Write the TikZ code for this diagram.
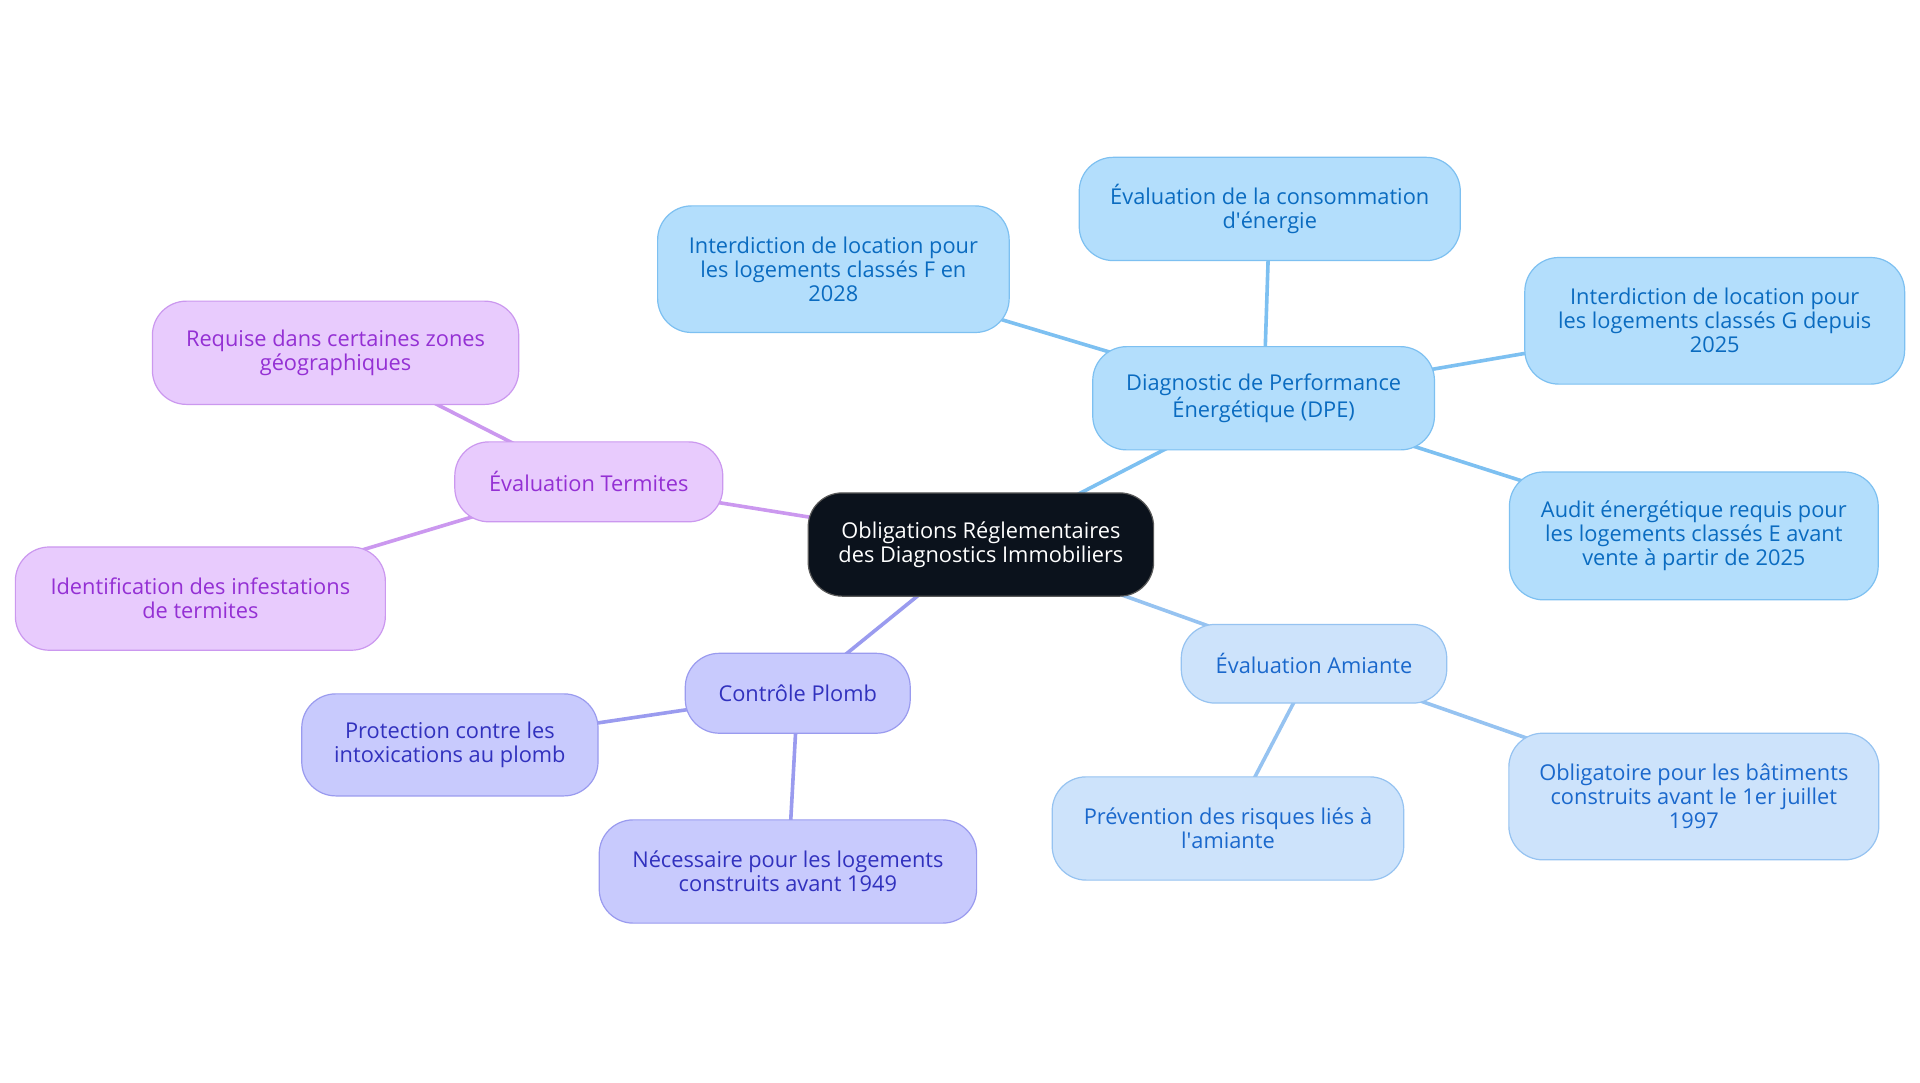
\documentclass[tikz,border=0pt]{standalone}
\usepackage{fontspec}
\setmainfont{Open Sans}
\usetikzlibrary{backgrounds}
\definecolor{rootfill}{HTML}{0B121C}
\definecolor{dpefill}{HTML}{B3DEFC}
\definecolor{dpeline}{HTML}{7DC0F1}
\definecolor{dpetext}{HTML}{0A6BC0}
\definecolor{amifill}{HTML}{CDE3FB}
\definecolor{amiline}{HTML}{96C3F1}
\definecolor{amitext}{HTML}{1A68CC}
\definecolor{plofill}{HTML}{C8CAFD}
\definecolor{ploline}{HTML}{9A9BEF}
\definecolor{plotext}{HTML}{3131BE}
\definecolor{terfill}{HTML}{E8CBFD}
\definecolor{terline}{HTML}{CB98EF}
\definecolor{tertext}{HTML}{9430D4}
\tikzset{
  base/.style={rounded corners=17pt, line width=0.6pt, align=center, inner sep=2pt,
    font=\fontsize{10.9}{12}\selectfont},
  box/.style 2 args={base, minimum width=#1*0.6146pt, minimum height=#2*0.6146pt},
  root/.style={fill=rootfill, draw=gray!70!black, text=white},
  dpe/.style={fill=dpefill, draw=dpeline, text=dpetext},
  ami/.style={fill=amifill, draw=amiline, text=amitext},
  plo/.style={fill=plofill, draw=ploline, text=plotext},
  ter/.style={fill=terfill, draw=terline, text=tertext},
  link/.style={line width=1.8pt}
}
\begin{document}
\begin{tikzpicture}[x=0.6146pt,y=-0.6146pt]
  \useasboundingbox (2,1) rectangle (1564,882);
  %% centre
  \node[box={281}{84}, root] (obl) at (800,444) {Obligations Réglementaires\\des Diagnostics Immobiliers};
  %% DPE
  \node[box={278}{84}, dpe] (dpe) at (1030,325) {Diagnostic de Performance\\Énergétique (DPE)};
  \node[box={310}{84}, dpe] (conso) at (1035,171) {Évaluation de la consommation\\d\textquotesingle énergie};
  \node[box={286}{103}, dpe] (locf) at (680,220) {Interdiction de location pour\\les logements classés F en\\2028};
  \node[box={309}{103}, dpe] (locg) at (1397,262) {Interdiction de location pour\\les logements classés G depuis\\2025};
  \node[box={300}{104}, dpe] (audit) at (1380,437) {Audit énergétique requis pour\\les logements classés E avant\\vente à partir de 2025};
  %% amiante
  \node[box={216}{64}, ami] (ami) at (1071,541) {Évaluation Amiante};
  \node[box={286}{84}, ami] (prev) at (1001,675) {Prévention des risques liés à\\l\textquotesingle amiante};
  \node[box={301}{103}, ami] (oblig) at (1380,649) {Obligatoire pour les bâtiments\\construits avant le 1er juillet\\1997};
  %% plomb
  \node[box={183}{65}, plo] (plomb) at (651,565) {Contrôle Plomb};
  \node[box={241}{83}, plo] (prot) at (368,607) {Protection contre les\\intoxications au plomb};
  \node[box={307}{84}, plo] (nec) at (643,710) {Nécessaire pour les logements\\construits avant 1949};
  %% termites
  \node[box={218}{65}, ter] (term) at (481,393) {Évaluation Termites};
  \node[box={298}{84}, ter] (zones) at (275,288) {Requise dans certaines zones\\géographiques};
  \node[box={301}{84}, ter] (ident) at (165,488) {Identification des infestations\\de termites};
  %% links
  \begin{scope}[on background layer]
    \fill[white] (2,1) rectangle (1564,882);
    \draw[link, dpeline] (obl.center) -- (dpe.center);
    \draw[link, dpeline] (dpe.center) -- (conso.center);
    \draw[link, dpeline] (dpe.center) -- (locf.center);
    \draw[link, dpeline] (dpe.center) -- (locg.center);
    \draw[link, dpeline] (dpe.center) -- (audit.center);
    \draw[link, amiline] (obl.center) -- (ami.center);
    \draw[link, amiline] (ami.center) -- (prev.center);
    \draw[link, amiline] (ami.center) -- (oblig.center);
    \draw[link, ploline] (obl.center) -- (plomb.center);
    \draw[link, ploline] (plomb.center) -- (prot.center);
    \draw[link, ploline] (plomb.center) -- (nec.center);
    \draw[link, terline] (obl.center) -- (term.center);
    \draw[link, terline] (term.center) -- (zones.center);
    \draw[link, terline] (term.center) -- (ident.center);
  \end{scope}
\end{tikzpicture}
\end{document}
